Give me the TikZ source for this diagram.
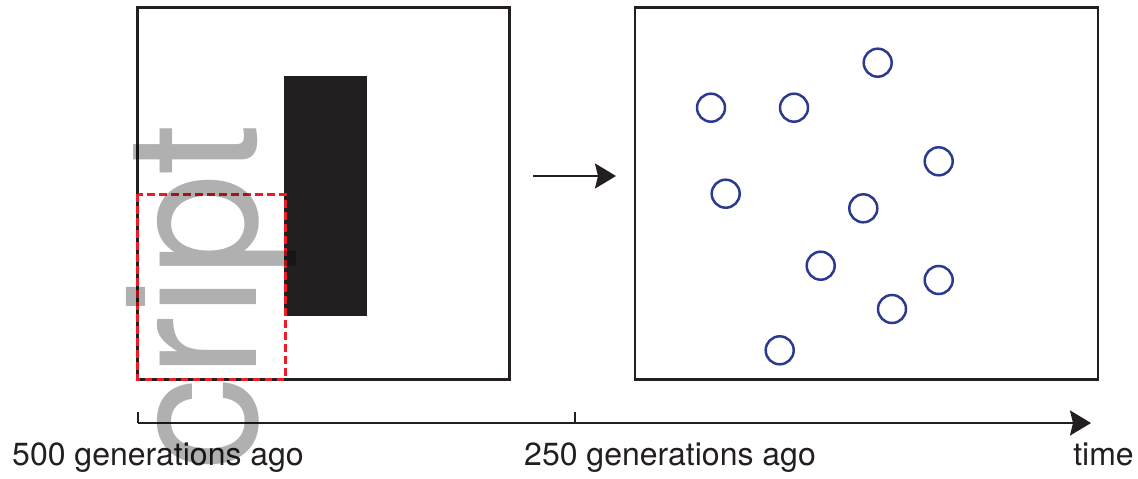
\documentclass[tikz,border=0pt]{standalone}
\usepackage{fontspec}
\setmainfont{TeX Gyre Heros}
\usetikzlibrary{arrows.meta}
\definecolor{ink}{RGB}{35,31,32}
\definecolor{navy}{RGB}{43,57,144}
\definecolor{redline}{RGB}{237,28,36}
\begin{document}
\begin{tikzpicture}[x=1pt,y=-1pt,
  frame/.style={draw=ink, line width=2.3pt, inner sep=0pt, rectangle},
  dot/.style={draw=navy, line width=2.5pt, circle, minimum size=28pt, inner sep=0pt},
  axisline/.style={draw=ink, line width=2.3pt},
  arrowline/.style={draw=ink, line width=2.3pt, -{Stealth[length=21pt, width=25pt, inset=3pt]}},
  lbl/.style={font=\fontsize{32}{34}\selectfont, text=ink, anchor=base, inner sep=0pt}
]
\useasboundingbox (0,0) rectangle (1138,479);
% left panel
\node[frame, minimum width=372pt, minimum height=372pt] (left) at (323.5,193.5) {};
\node[fill=ink, inner sep=0pt, minimum width=82.5pt, minimum height=240pt] (block) at (325.5,196) {};
\draw[redline, line width=2.5pt, dash pattern=on 7.5pt off 4.5pt] (137.7,194.3) rectangle (285.3,379.3);
% right panel
\node[frame, minimum width=463pt, minimum height=372pt] (right) at (866.5,193.5) {};
\node[dot] (c1) at (877.7,62.7) {};
\node[dot] (c2) at (711,107.7) {};
\node[dot] (c3) at (794,107.7) {};
\node[dot] (c4) at (938.7,161.3) {};
\node[dot] (c5) at (725.7,193.7) {};
\node[dot] (c6) at (863.3,208.3) {};
\node[dot] (c7) at (820.7,265.7) {};
\node[dot] (c8) at (938.7,280) {};
\node[dot] (c9) at (892,309) {};
\node[dot] (c10) at (779.7,350.3) {};
% middle arrow
\coordinate (m0) at (533,176);
\coordinate (m1) at (616,176);
\draw[arrowline] (m0) -- (m1);
% time axis
\coordinate (t0) at (137.7,423);
\coordinate (t1) at (1091,423);
\coordinate (k0) at (137.7,411.5);
\coordinate (k1) at (575,411.5);
\coordinate (k1b) at (575,423);
\draw[axisline] (k0) -- (t0);
\draw[axisline] (k1) -- (k1b);
\draw[arrowline] (t0) -- (t1);
\node[lbl] (l500) at (158,465) {500 generations ago};
\node[lbl] (l250) at (670,465) {250 generations ago};
\node[lbl] (ltime) at (1103.5,465) {time};
% watermark text
\node[rotate=90, anchor=base west, inner sep=0pt, text=black, text opacity=0.31,
  font=\fontsize{184}{184}\selectfont] (wm) at (256,471) {cript};
\end{tikzpicture}
\end{document}
